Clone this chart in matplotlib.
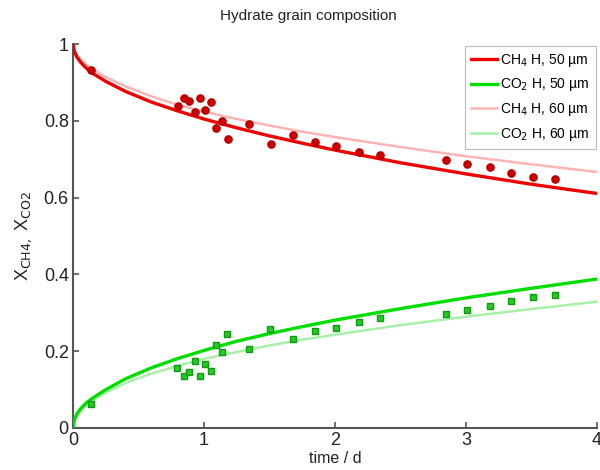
import matplotlib
matplotlib.use("Agg")
import matplotlib.pyplot as plt
from matplotlib.lines import Line2D

plt.rcParams['font.family'] = ['Liberation Sans', 'DejaVu Sans']

# model curves
t_model = [0, 0.01, 0.03, 0.06, 0.1, 0.15, 0.25, 0.4, 0.6, 0.8, 1.0, 1.25,
           1.5, 1.75, 2.0, 2.5, 3.0, 3.5, 4.0]
ch4_50 = [1.0, 0.981, 0.966, 0.952, 0.938, 0.924, 0.903, 0.877, 0.849, 0.826,
          0.805, 0.782, 0.761, 0.742, 0.724, 0.691, 0.662, 0.635, 0.611]
co2_50 = [0.0, 0.022, 0.037, 0.051, 0.065, 0.078, 0.100, 0.128, 0.157, 0.181,
          0.202, 0.226, 0.246, 0.264, 0.281, 0.311, 0.339, 0.364, 0.388]
ch4_60 = [1.0, 0.985, 0.972, 0.960, 0.947, 0.935, 0.914, 0.890, 0.864, 0.842,
          0.824, 0.805, 0.788, 0.772, 0.758, 0.732, 0.708, 0.687, 0.667]
co2_60 = [0.0, 0.018, 0.032, 0.046, 0.059, 0.072, 0.092, 0.117, 0.142, 0.162,
          0.180, 0.198, 0.215, 0.230, 0.243, 0.268, 0.290, 0.310, 0.329]

# measured points
t_ch4 = [0.135, 0.80, 0.85, 0.885, 0.97, 0.93, 1.01, 1.05, 1.14, 1.09, 1.18,
         1.34, 1.51, 1.68, 1.85, 2.01, 2.18, 2.34, 2.845, 3.01, 3.18, 3.34,
         3.51, 3.68]
x_ch4 = [0.934, 0.839, 0.859, 0.852, 0.861, 0.823, 0.829, 0.849, 0.800, 0.782,
         0.752, 0.791, 0.739, 0.764, 0.745, 0.734, 0.720, 0.712, 0.699, 0.688,
         0.680, 0.665, 0.654, 0.650]
t_co2 = [0.135, 0.796, 0.847, 0.888, 0.929, 0.97, 1.01, 1.05, 1.094, 1.137,
         1.178, 1.34, 1.506, 1.68, 1.85, 2.01, 2.18, 2.34, 2.845, 3.01, 3.18,
         3.34, 3.51, 3.68]
x_co2 = [0.062, 0.156, 0.136, 0.145, 0.174, 0.136, 0.168, 0.148, 0.215, 0.197,
         0.245, 0.205, 0.257, 0.233, 0.253, 0.261, 0.276, 0.286, 0.298, 0.308,
         0.317, 0.331, 0.342, 0.346]

xticks = [0, 1, 2, 3, 4]
yticks = [0, 0.2, 0.4, 0.6, 0.8, 1]
yticklabels = ['0', '0.2', '0.4', '0.6', '0.8', '1']
legend_labels = [r'CH$_4$ H, 50 µm', r'CO$_2$ H, 50 µm',
                 r'CH$_4$ H, 60 µm', r'CO$_2$ H, 60 µm']

fig = plt.figure(figsize=(6, 4.7), dpi=100)
ax = fig.add_axes([0.1217, 0.0894, 0.8733, 0.8166])

red = '#ee0000'
green = '#00dd00'
pink = '#ffb4b4'
lgreen = '#a8f0a8'

ax.plot(t_model, ch4_60, color=pink, lw=1.8, zorder=2)
ax.plot(t_model, co2_60, color=lgreen, lw=1.8, zorder=2)
ax.plot(t_model, ch4_50, color=red, lw=2.4, zorder=3)
ax.plot(t_model, co2_50, color=green, lw=2.4, zorder=3)

ax.plot(t_ch4, x_ch4, 'o', color='#d00000', mec='#b00000', ms=5.2, zorder=4)
ax.plot(t_co2, x_co2, 's', color='#22cc22', mec='#119911', ms=4.5, zorder=4)

ax.set_xlim(0, 4)
ax.set_ylim(0, 1)
ax.set_xticks(xticks)
ax.set_yticks(yticks)
ax.set_yticklabels(yticklabels)
for s in ['top', 'right']:
    ax.spines[s].set_visible(False)
for s in ['left', 'bottom']:
    ax.spines[s].set_color('#555555')
    ax.spines[s].set_linewidth(1.5)
ax.tick_params(direction='in', length=4, width=1.2, color='#555555',
               labelsize=13, labelcolor='#222222', pad=3)

ax.text(0.449, 1.055, 'Hydrate grain composition', transform=ax.transAxes,
        ha='center', va='bottom', fontsize=11, color='#222222')
ax.set_xlabel('time / d', fontsize=11.5, color='#222222', labelpad=1)
ax.set_ylabel(r'X$_{\mathrm{CH4},}$ X$_{\mathrm{CO2}}$', fontsize=13,
              color='#222222', labelpad=7)

handles = [Line2D([], [], color=red, lw=2.4),
           Line2D([], [], color=green, lw=2.4),
           Line2D([], [], color=pink, lw=1.8),
           Line2D([], [], color=lgreen, lw=1.8)]
leg = ax.legend(handles, legend_labels, loc='upper right',
                bbox_to_anchor=(1.0, 1.0), fontsize=10, frameon=True,
                fancybox=False, handlelength=1.9, handletextpad=0.2,
                borderpad=0.45, labelspacing=0.55, borderaxespad=0.1)
leg.get_frame().set_edgecolor('#aaaaaa')
leg.get_frame().set_linewidth(0.8)

fig.savefig('out.png', dpi=100)
